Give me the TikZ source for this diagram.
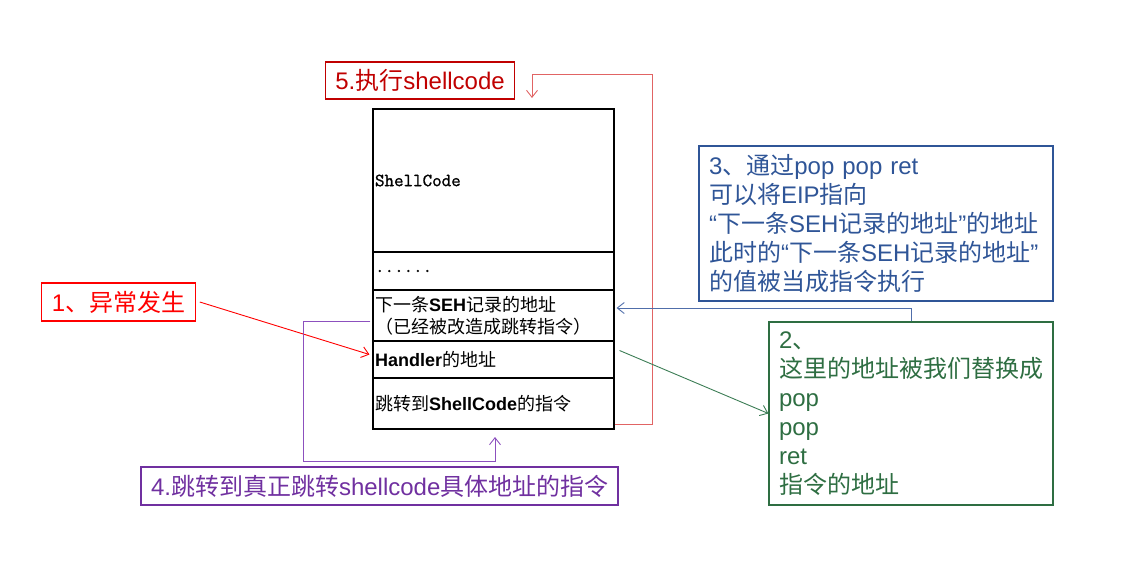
\documentclass[tikz,border=0pt]{standalone}
\usepackage{fontspec}
\setmainfont{Liberation Sans}
\newfontfamily\cjk{Noto Sans CJK SC}
\newfontfamily\monof{Latin Modern Mono}[FakeBold=1.2]
\newcommand\zh[1]{{\cjk #1}}
\usetikzlibrary{arrows.meta,calc}
\definecolor{cRed}{HTML}{FF0000}
\definecolor{cDRed}{HTML}{C00000}
\definecolor{cRedLine}{RGB}{225,100,100}
\definecolor{cPurple}{HTML}{7030A0}
\definecolor{cPurLine}{RGB}{140,80,190}
\definecolor{cBlue}{HTML}{2F5597}
\definecolor{cBlueLine}{RGB}{80,110,170}
\definecolor{cGreen}{RGB}{46,110,66}
\definecolor{cGreenLine}{RGB}{60,125,85}
\tikzset{
  note/.style={draw, line width=1.2pt, inner ysep=0pt, inner xsep=10pt, font=\fontsize{24}{29}\selectfont},
  cell/.style={draw=black, line width=1.1pt, minimum width=241pt, inner xsep=2pt, inner ysep=0pt,
    text width=237pt, align=left, font=\fontsize{18}{22}\selectfont},
  link/.style={line width=0.9pt, -{Straight Barb[length=7pt,width=11pt,line width=0.9pt]}},
}
\begin{document}
\begin{tikzpicture}[x=1pt,y=-1pt]
\useasboundingbox (0,0) rectangle (1121,574);
% stack
\node[cell, minimum height=143pt] (r1) at (493.5,180.5) {{\monof\fontsize{18.5}{21}\selectfont ShellCode}};
\node[cell, minimum height=38pt] (r2) at (493.5,271) {{\monof\fontsize{18.5}{21}\selectfont ......}};
\node[cell, minimum height=51pt] (r3) at (493.5,315.5) {\zh{下一条}\textbf{SEH}\zh{记录的地址}\\\zh{（已经被改造成跳转指令）}};
\node[cell, minimum height=37pt] (r4) at (493.5,359.5) {\textbf{Handler}\zh{的地址}};
\node[cell, minimum height=51pt] (r5) at (493.5,403.5) {\zh{跳转到}\textbf{ShellCode}\zh{的指令}};
% notes
\node[note, draw=cRed, text=cRed, minimum width=153pt, minimum height=38pt] (n1) at (118.5,302) {1\zh{、异常发生}};
\node[note, draw=cDRed, text=cDRed, minimum width=188pt, minimum height=37pt] (n5) at (420,80.5) {5.\zh{执行}shellcode};
\node[note, draw=cPurple, text=cPurple, minimum width=477pt, minimum height=38pt, text width=457pt, align=left] (n4) at (379.5,486) {4.\zh{跳转到真正跳转}shellcode\zh{具体地址的指令}};
\node[note, draw=cBlue, text=cBlue, minimum width=354pt, minimum height=155pt, text width=334pt, align=left] (n3) at (876,223.5)
 {3\zh{、通过}pop pop ret\\\zh{可以将}EIP\zh{指向}\\“\zh{下一条}SEH\zh{记录的地址}”\zh{的地址}\\\zh{此时的}“\zh{下一条}SEH\zh{记录的地址}”\\\zh{的值被当成指令执行}};
\node[note, draw=cGreen, text=cGreen, minimum width=284pt, minimum height=183pt, text width=264pt, align=left] (n2) at (911,413.5)
 {2\zh{、}\\\zh{这里的地址被我们替换成}\\pop\\pop\\ret\\\zh{指令的地址}};
% connectors
\coordinate (s1) at ([xshift=4pt]n1.east);
\coordinate (t1) at ($(r4.west)+(-3,-5)$);
\draw[link, cRed] (s1) -- (t1);
\coordinate (s5) at ([yshift=5pt]r5.south east);
\coordinate (k5) at (652,74);
\coordinate (t5) at (532,98);
\draw[link, cRedLine] (s5) -| (k5) -| (t5);
\coordinate (s4) at ([xshift=-2pt,yshift=-5.5pt]r3.west);
\coordinate (k4) at (303,461);
\coordinate (t4) at (495,437);
\draw[link, cPurLine] (s4) -| (k4) -| (t4);
\coordinate (s3) at (n2.north -| 911,0);
\coordinate (t3) at ([xshift=2pt,yshift=7.5pt]r3.east);
\draw[link, cBlueLine] (s3) |- (t3);
\coordinate (s2) at ([xshift=5pt,yshift=9pt]r4.east);
\draw[link, cGreenLine] (s2) -- (n2.west);
\end{tikzpicture}
\end{document}
